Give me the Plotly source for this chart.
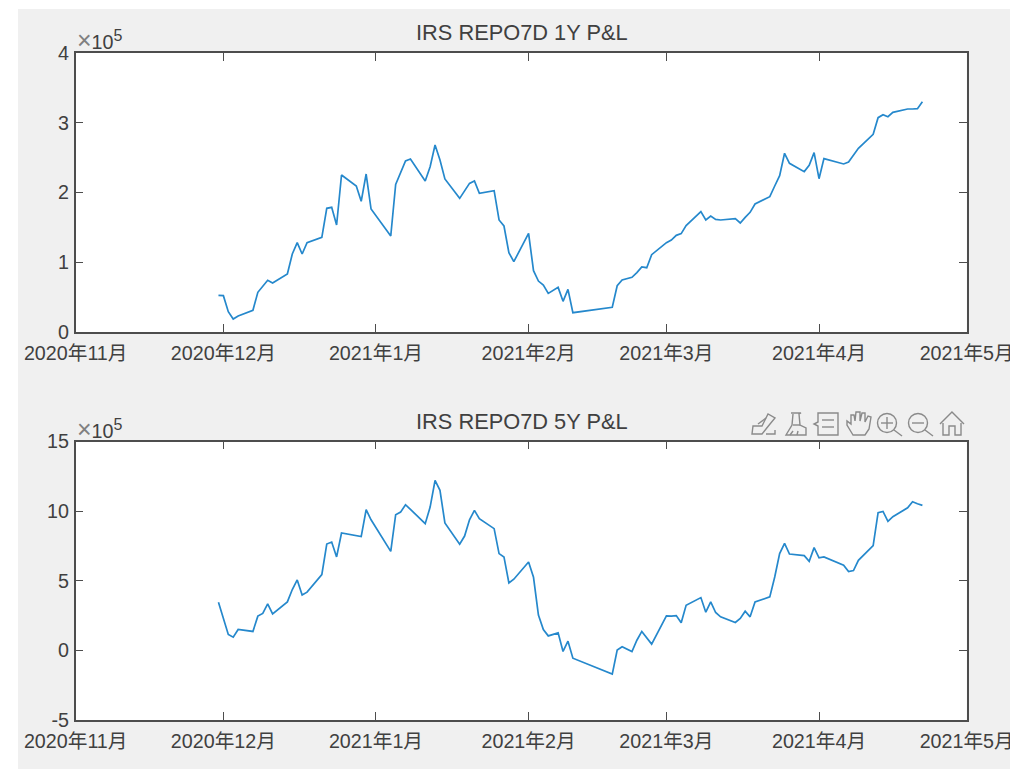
import plotly.graph_objects as go

W, H = 1010, 770

dates = [
    "2020-11-30", "2020-12-01", "2020-12-02", "2020-12-03", "2020-12-04", "2020-12-07", "2020-12-08", "2020-12-09",
    "2020-12-10", "2020-12-11", "2020-12-14", "2020-12-15", "2020-12-16", "2020-12-17", "2020-12-18", "2020-12-21",
    "2020-12-22", "2020-12-23", "2020-12-24", "2020-12-25", "2020-12-28", "2020-12-29", "2020-12-30", "2020-12-31",
    "2021-01-04", "2021-01-05", "2021-01-06", "2021-01-07", "2021-01-08", "2021-01-11", "2021-01-12", "2021-01-13",
    "2021-01-14", "2021-01-15", "2021-01-18", "2021-01-19", "2021-01-20", "2021-01-21", "2021-01-22", "2021-01-25",
    "2021-01-26", "2021-01-27", "2021-01-28", "2021-01-29", "2021-02-01", "2021-02-02", "2021-02-03", "2021-02-04",
    "2021-02-05", "2021-02-07", "2021-02-08", "2021-02-09", "2021-02-10", "2021-02-18", "2021-02-19", "2021-02-20",
    "2021-02-22", "2021-02-23", "2021-02-24", "2021-02-25", "2021-02-26", "2021-03-01", "2021-03-02", "2021-03-03",
    "2021-03-04", "2021-03-05", "2021-03-08", "2021-03-09", "2021-03-10", "2021-03-11", "2021-03-12", "2021-03-15",
    "2021-03-16", "2021-03-17", "2021-03-18", "2021-03-19", "2021-03-22", "2021-03-23", "2021-03-24", "2021-03-25",
    "2021-03-26", "2021-03-29", "2021-03-30", "2021-03-31", "2021-04-01", "2021-04-02", "2021-04-06", "2021-04-07",
    "2021-04-08", "2021-04-09", "2021-04-12", "2021-04-13", "2021-04-14", "2021-04-15", "2021-04-16", "2021-04-19",
    "2021-04-20", "2021-04-21", "2021-04-22",
]

pnl_1y = [
    52600, 52100, 29100, 18600, 22900, 31100, 56900, 66000,
    74100, 70200, 83200, 111800, 128100, 111800, 128100, 135700,
    177300, 178700, 153400, 225100, 209300, 187300, 226500, 176300,
    137600, 211700, 229900, 245200, 248000, 216500, 237000, 268100,
    246600, 219400, 191600, 202100, 213100, 216500, 198800, 202600,
    160600, 152000, 113700, 100800, 141400, 87900, 73000, 67400,
    55400, 64000, 44000, 61200, 27700, 35400, 66400, 74600,
    78400, 85100, 93200, 92200, 110900, 128100, 131900, 138600,
    141000, 152500, 172500, 160600, 166300, 161500, 160600, 162500,
    156300, 164400, 171600, 183500, 194000, 209300, 224100, 256200,
    241800, 229900, 239000, 257100, 219800, 248500, 240900, 243700,
    254300, 263300, 283400, 307300, 311600, 308700, 314900, 319700,
    319700, 320200, 330200,
]

pnl_5y = [
    346000, 229000, 114000, 95000, 150000, 136000, 246000, 265000,
    334000, 262000, 348000, 437000, 506000, 398000, 418000, 544000,
    764000, 778000, 671000, 843000, 824000, 817000, 1010000, 938000,
    711000, 974000, 993000, 1046000, 1012000, 910000, 1029000, 1220000,
    1149000, 915000, 762000, 821000, 938000, 1005000, 946000, 874000,
    695000, 671000, 484000, 511000, 635000, 525000, 253000, 150000,
    104000, 126000, -8000, 66000, -56000, -170000, 2000, 26000,
    -8000, 73000, 136000, 93000, 45000, 248000, 246000, 250000,
    198000, 324000, 379000, 274000, 348000, 272000, 241000, 200000,
    229000, 281000, 241000, 348000, 384000, 527000, 695000, 769000,
    692000, 680000, 640000, 738000, 664000, 671000, 611000, 566000,
    573000, 647000, 752000, 989000, 998000, 926000, 960000, 1024000,
    1067000, 1053000, 1041000,
]

titles = ["IRS REPO7D 1Y P&L", "IRS REPO7D 5Y P&L"]
month_ticks = ["2020-11-01", "2020-12-01", "2021-01-01", "2021-02-01", "2021-03-01", "2021-04-01", "2021-05-01"]
month_labels = ["2020年11月", "2020年12月", "2021年1月", "2021年2月", "2021年3月", "2021年4月", "2021年5月"]
y1_ticks = [0, 100000, 200000, 300000, 400000]
y1_labels = ["0", "1", "2", "3", "4"]
y2_ticks = [-500000, 0, 500000, 1000000, 1500000]
y2_labels = ["-5", "0", "5", "10", "15"]

FONT = "Liberation Sans, Arial, Noto Sans CJK SC, sans-serif"
TXT = "#404040"
AX = "#4d4d4d"
LINE = "#2588cc"
ICON = "#8a8a8a"
EXP = "<span style='color:#808080;font-size:25px'>×</span>10<sup><span style='font-size:16px'>5</span></sup>"


def px(x):
    return x / W


def py(y):
    return 1 - y / H


def path(points, close=False):
    s = "M " + " L ".join(f"{px(x):.5f},{py(y):.5f}" for x, y in points)
    return s + (" Z" if close else "")


def icon_line(points, close=False):
    return dict(type="path", xref="paper", yref="paper", path=path(points, close),
                line=dict(color=ICON, width=1.4), layer="above")


def icon_circle(cx, cy, r):
    return dict(type="circle", xref="paper", yref="paper", x0=px(cx - r), x1=px(cx + r),
                y0=py(cy + r), y1=py(cy - r), line=dict(color=ICON, width=1.4), layer="above")


def white_rect(x0, y0, x1, y1):
    return dict(type="rect", xref="paper", yref="paper", x0=px(x0), x1=px(x1), y0=py(y1), y1=py(y0),
                fillcolor="white", line=dict(width=0), layer="below")


shapes = [
    white_rect(0, 0, W, 9), white_rect(0, 0, 18, H), white_rect(0, 769, W, H),
    # home
    icon_line([(940, 424), (952, 412), (964, 424)]),
    icon_line([(943, 423), (943, 435), (949, 435), (949, 426), (955, 426), (955, 435), (961, 435), (961, 423)]),
    # zoom out
    icon_circle(918, 423, 9.5), icon_line([(925, 430), (933, 436)]), icon_line([(912, 423), (924, 423)]),
    # zoom in
    icon_circle(887, 423, 9.5), icon_line([(894, 430), (902, 436)]),
    icon_line([(881, 423), (893, 423)]), icon_line([(887, 417), (887, 429)]),
    # hand
    icon_line([(853, 435), (847, 425), (847, 421), (851, 424), (851, 415), (854, 415), (855, 421), (856, 412),
               (860, 412), (860, 421), (862, 413), (865, 413), (865, 422), (868, 416), (871, 417), (869, 429),
               (865, 435)], True),
    # legend box
    icon_line([(818, 413), (838, 413), (838, 435), (818, 435), (818, 426), (814, 424), (818, 422)], True),
    icon_line([(822, 420), (834, 420)]), icon_line([(822, 427), (834, 427)]),
    # brush
    icon_line([(791, 413), (801, 413), (799, 414), (800, 425), (806, 428), (806, 435), (786, 435), (792, 425), (793, 414)]),
    icon_line([(793, 425), (800, 425)]), icon_line([(793, 431), (790, 435)]), icon_line([(798, 431), (797, 435)]),
    # data tips / edit
    icon_line([(752, 434), (753, 426), (762, 426), (764, 422), (768, 414), (775, 418), (770, 424), (766, 429), (762, 434)], True),
    icon_line([(758, 424), (766, 418)]),
    icon_line([(766, 434), (775, 434), (775, 430)]),
]

fig = go.Figure()
fig.add_trace(go.Scatter(x=dates, y=pnl_1y, mode="lines", line=dict(color=LINE, width=1.7), xaxis="x", yaxis="y", showlegend=False))
fig.add_trace(go.Scatter(x=dates, y=pnl_5y, mode="lines", line=dict(color=LINE, width=1.7), xaxis="x2", yaxis="y2", showlegend=False))

xcommon = dict(type="date", range=["2020-11-01", "2021-05-01"], domain=[px(75.7), px(966.7)], tickmode="array",
               tickvals=month_ticks, ticktext=month_labels, ticks="inside", ticklen=8, tickwidth=1.2, tickcolor=AX,
               showline=True, linecolor=AX, linewidth=1.5, mirror="ticks", showgrid=False, zeroline=False, automargin=False,
               tickangle=0, ticklabeloverflow="allow", ticklabelstandoff=3, tickfont=dict(family=FONT, size=19.7, color=TXT))
ycommon = dict(tickmode="array", ticks="inside", ticklen=8, tickwidth=1.2, tickcolor=AX, showline=True, linecolor=AX,
               linewidth=1.5, mirror="ticks", showgrid=False, zeroline=False, automargin=False,
               ticklabelstandoff=1, tickfont=dict(family=FONT, size=19.7, color=TXT))


def ann(text, x, y, size, xanchor="center"):
    return dict(text=text, xref="paper", yref="paper", x=px(x), y=py(y), xanchor=xanchor, yanchor="middle",
                showarrow=False, font=dict(family=FONT, size=size, color=TXT), borderpad=0)


fig.update_layout(
    width=W, height=H, autosize=False, margin=dict(l=0, r=0, t=0, b=0),
    paper_bgcolor="#f0f0f0", plot_bgcolor="white", shapes=shapes,
    xaxis=dict(anchor="y", **xcommon),
    yaxis=dict(anchor="x", domain=[py(332), py(53)], range=[0, 400000], tickvals=y1_ticks, ticktext=y1_labels, **ycommon),
    xaxis2=dict(anchor="y2", **xcommon),
    yaxis2=dict(anchor="x2", domain=[py(720), py(441.5)], range=[-500000, 1500000], tickvals=y2_ticks, ticktext=y2_labels, **ycommon),
    annotations=[
        ann(titles[0], 522, 33, 21.8),
        ann(titles[1], 522, 422, 21.8),
        ann(EXP, 76, 40, 19.7, "left"),
        ann(EXP, 76, 429, 19.7, "left"),
    ],
)

fig.write_html("out.html", config=dict(displayModeBar=False), post_script="document.body.style.margin='0';document.body.style.background='white';")
